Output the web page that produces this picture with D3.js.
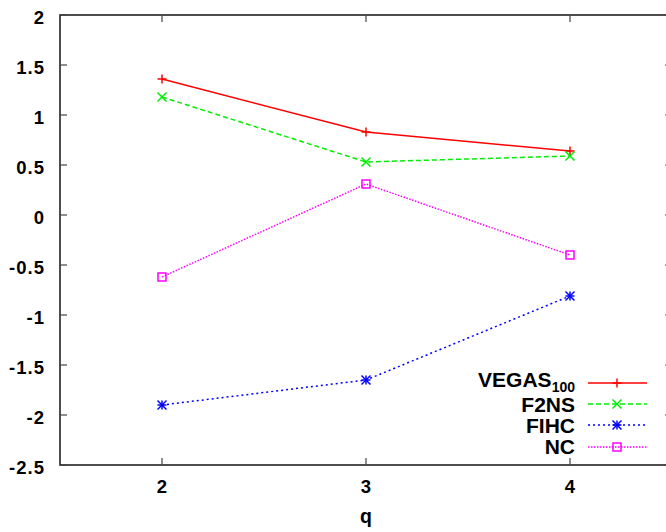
<!DOCTYPE html>
<html>
<head>
<meta charset="utf-8">
<script src="https://cdn.jsdelivr.net/npm/d3@7"></script>
<style>
  html, body { margin: 0; padding: 0; background: #fff; }
  svg text { font-family: "Liberation Sans", Arial, Helvetica, sans-serif; font-weight: bold; fill: #000; }
</style>
</head>
<body>
<svg id="chart" width="666" height="532"></svg>
<script>
// Grid sizes q and the measured value of each method
const qValues = [2, 3, 4];
const vegas100 = [1.36, 0.83, 0.64];
const f2ns = [1.18, 0.53, 0.59];
const fihc = [-1.90, -1.65, -0.81];
const nc = [-0.62, 0.31, -0.40];

const yTicks = [2, 1.5, 1, 0.5, 0, -0.5, -1, -1.5, -2, -2.5];
const xTicks = [2, 3, 4];

const seriesList = [
  { name: "VEGAS", sub: "100", values: vegas100, color: "#ff0000", dash: null, marker: "plus" },
  { name: "F2NS", sub: null, values: f2ns, color: "#00ee00", dash: "5,3", marker: "cross" },
  { name: "FIHC", sub: null, values: fihc, color: "#0000ff", dash: "2,3", marker: "star" },
  { name: "NC", sub: null, values: nc, color: "#ff00ff", dash: "1.5,1.5", marker: "square" }
];

const svg = d3.select("#chart");
const plotLeft = 60, plotRight = 672, plotTop = 15, plotBottom = 465;

const x = d3.scaleLinear().domain([1.5, 4.5]).range([plotLeft, plotRight]);
const y = d3.scaleLinear().domain([-2.5, 2]).range([plotBottom, plotTop]);

// Frame
svg.append("rect")
  .attr("x", plotLeft).attr("y", plotTop)
  .attr("width", plotRight - plotLeft).attr("height", plotBottom - plotTop)
  .attr("fill", "none").attr("stroke", "#222").attr("stroke-width", 1.6);

// Inward ticks on all four sides
const tickLen = 7;
const tickG = svg.append("g").attr("stroke", "#444").attr("stroke-width", 1.2);
yTicks.forEach(v => {
  tickG.append("line").attr("x1", plotLeft).attr("x2", plotLeft + tickLen).attr("y1", y(v)).attr("y2", y(v));
  tickG.append("line").attr("x1", plotRight).attr("x2", plotRight - tickLen).attr("y1", y(v)).attr("y2", y(v));
});
xTicks.forEach(v => {
  tickG.append("line").attr("x1", x(v)).attr("x2", x(v)).attr("y1", plotBottom).attr("y2", plotBottom - tickLen);
  tickG.append("line").attr("x1", x(v)).attr("x2", x(v)).attr("y1", plotTop).attr("y2", plotTop + tickLen);
});

// Tick labels
svg.append("g").selectAll("text").data(yTicks).join("text")
  .attr("x", 45).attr("y", d => y(d) + 8.5)
  .attr("text-anchor", "end").attr("font-size", 18.5)
  .attr("letter-spacing", 1)
  .text(d => String(d));
svg.append("g").selectAll("text").data(xTicks).join("text")
  .attr("x", d => x(d)).attr("y", 493)
  .attr("text-anchor", "middle").attr("font-size", 18.5)
  .text(d => d);

// Axis title
svg.append("text").attr("x", x(3)).attr("y", 523)
  .attr("text-anchor", "middle").attr("font-size", 19.5).text("q");

function drawMarker(g, kind, cx, cy, color) {
  const s = 4.5;
  const m = g.append("g").attr("stroke", color).attr("stroke-width", 1.5).attr("fill", "none");
  if (kind === "plus" || kind === "star") {
    m.append("line").attr("x1", cx - s).attr("x2", cx + s).attr("y1", cy).attr("y2", cy);
    m.append("line").attr("x1", cx).attr("x2", cx).attr("y1", cy - s).attr("y2", cy + s);
  }
  if (kind === "cross" || kind === "star") {
    m.append("line").attr("x1", cx - s).attr("x2", cx + s).attr("y1", cy - s).attr("y2", cy + s);
    m.append("line").attr("x1", cx - s).attr("x2", cx + s).attr("y1", cy + s).attr("y2", cy - s);
  }
  if (kind === "square") {
    m.append("rect").attr("x", cx - 4).attr("y", cy - 4).attr("width", 8).attr("height", 8);
  }
}

const line = d3.line().x((d, i) => x(qValues[i])).y(d => y(d));

seriesList.forEach(s => {
  svg.append("path").datum(s.values)
    .attr("d", line)
    .attr("fill", "none").attr("stroke", s.color).attr("stroke-width", 1.5)
    .attr("stroke-dasharray", s.dash);
  const mg = svg.append("g");
  s.values.forEach((v, i) => drawMarker(mg, s.marker, x(qValues[i]), y(v), s.color));
});

// Legend
const legendRows = [
  { textY: 387, lineY: 383 },
  { textY: 412, lineY: 404 },
  { textY: 433, lineY: 425 },
  { textY: 454, lineY: 447 }
];
seriesList.forEach((s, i) => {
  const r = legendRows[i];
  const t = svg.append("text").attr("x", 575).attr("y", r.textY)
    .attr("text-anchor", "end").attr("font-size", 21);
  t.append("tspan").text(s.name);
  if (s.sub) t.append("tspan").attr("font-size", 14).attr("dy", 5).text(s.sub);
  svg.append("line").attr("x1", 588).attr("x2", 647).attr("y1", r.lineY).attr("y2", r.lineY)
    .attr("stroke", s.color).attr("stroke-width", 1.5).attr("stroke-dasharray", s.dash);
  drawMarker(svg.append("g"), s.marker, 617, r.lineY, s.color);
});
</script>
</body>
</html>
